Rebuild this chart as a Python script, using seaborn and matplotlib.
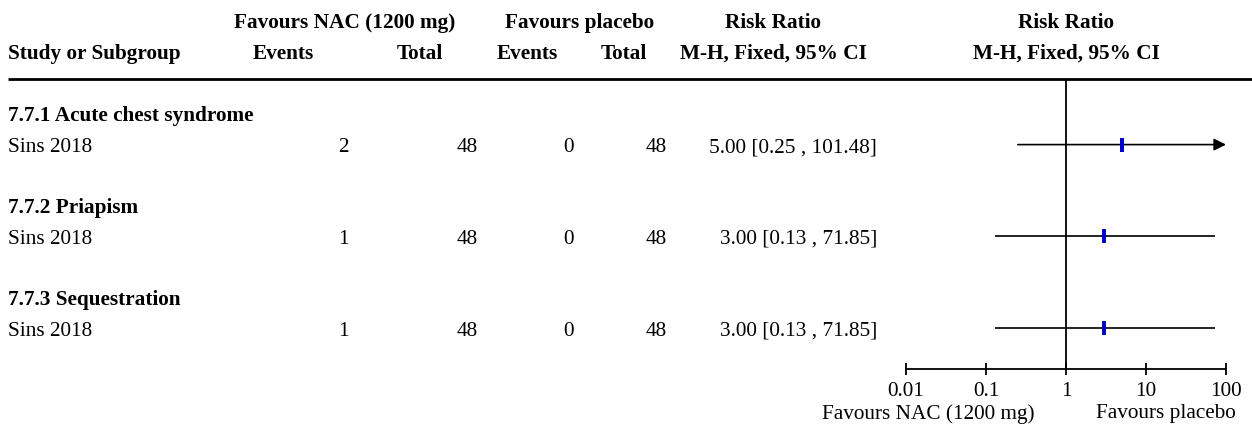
import numpy as np
import pandas as pd
import seaborn as sns
import matplotlib.pyplot as plt

# data
subgroups = ["7.7.1 Acute chest syndrome", "7.7.2 Priapism", "7.7.3 Sequestration"]
studies = ["Sins 2018", "Sins 2018", "Sins 2018"]
nac_events = [2, 1, 1]
nac_total = [48, 48, 48]
plc_events = [0, 0, 0]
plc_total = [48, 48, 48]
rr = [5.00, 3.00, 3.00]
ci_low = [0.25, 0.13, 0.13]
ci_high = [101.48, 71.85, 71.85]
ticks = [0.01, 0.1, 1, 10, 100]
tick_labels = ["0.01", "0.1", "1", "10", "100"]

sns.set_theme(style="white")
plt.rcParams["font.family"] = ["Liberation Serif", "DejaVu Serif"]
plt.rcParams["text.color"] = "black"
plt.rcParams["xtick.color"] = "black"
plt.rcParams["xtick.labelcolor"] = "black"
FS = 15.3

W, H = 1252, 427
fig = plt.figure(figsize=(W / 100, H / 100), dpi=100)

# layout axes in pixel units
tab = fig.add_axes([0, 0, 1, 1])
tab.set_xlim(0, W)
tab.set_ylim(H, 0)
tab.axis("off")


def row_y(i):
    return 115 + 30.6 * i


# headers
hdr = dict(fontsize=FS, fontweight="bold", va="center")
tab.text(8, 54, "Study or Subgroup", ha="left", **hdr)
tab.text(345, 23, "Favours NAC (1200 mg)", ha="center", **hdr)
tab.text(283, 54, "Events", ha="center", **hdr)
tab.text(420, 54, "Total", ha="center", **hdr)
tab.text(580, 23, "Favours placebo", ha="center", **hdr)
tab.text(527, 54, "Events", ha="center", **hdr)
tab.text(624, 54, "Total", ha="center", **hdr)
tab.text(773, 23, "Risk Ratio", ha="center", **hdr)
tab.text(773, 54, "M-H, Fixed, 95% CI", ha="center", **hdr)
tab.text(1066, 23, "Risk Ratio", ha="center", **hdr)
tab.text(1066, 54, "M-H, Fixed, 95% CI", ha="center", **hdr)
tab.plot([8, W], [80, 80], color="black", lw=2, solid_capstyle="butt")

rows = []
for k in range(len(subgroups)):
    yh = row_y(3 * k) + 1
    yd = row_y(3 * k + 1)
    rows.append(yd)
    tab.text(8, yh, subgroups[k], ha="left", **hdr)
    reg = dict(fontsize=FS, va="center")
    tab.text(8, yd + 2, studies[k], ha="left", **reg)
    tab.text(343, yd + 2, str(nac_events[k]), ha="center", **reg)
    tab.text(478, yd + 2, str(nac_total[k]), ha="right", **reg)
    tab.text(569, yd + 2, str(plc_events[k]), ha="center", **reg)
    tab.text(667, yd + 2, str(plc_total[k]), ha="right", **reg)
    tab.text(877, yd + 2, f"{rr[k]:.2f} [{ci_low[k]:.2f} , {ci_high[k]:.2f}]", ha="right", **reg)

df = pd.DataFrame({"rr": rr, "lo": ci_low, "hi": ci_high, "y": rows})

# forest axes
ax = fig.add_axes([906 / W, (H - 370) / H, 320 / W, 290 / H])
ax.set_xscale("log")
ax.set_xlim(0.01, 100)
ax.set_ylim(370, 80)
ax.patch.set_alpha(0)

ax.axvline(1, color="black", lw=1.3)
for _, r in df.iterrows():
    if r["hi"] > 100:
        ax.annotate("", xy=(100, r["y"]), xytext=(r["lo"], r["y"]),
                    arrowprops=dict(arrowstyle="-|>,head_length=0.6,head_width=0.3",
                                    color="black", lw=1.2, shrinkA=0, shrinkB=0))
    else:
        ax.hlines(r["y"], r["lo"], r["hi"], color="black", lw=1.2)

box = [(-1, -3), (1, -3), (1, 3), (-1, 3)]
sns.scatterplot(data=df, x="rr", y="y", marker=box, s=110, color="#0000cc",
                edgecolor="#0000cc", linewidth=0, ax=ax, zorder=5, legend=False)

for s in ["top", "left", "right"]:
    ax.spines[s].set_visible(False)
ax.spines["bottom"].set_color("black")
ax.spines["bottom"].set_linewidth(1.3)
ax.set_xticks(ticks)
ax.set_xticklabels(tick_labels)
ax.minorticks_off()
ax.tick_params(axis="x", direction="inout", length=9, width=1.3, color="black",
               labelcolor="black", labelsize=FS, pad=4, bottom=True)
ax.set_yticks([])
ax.set_xlabel("")
ax.set_ylabel("")

tab.text(1035, 414, "Favours NAC (1200 mg)", ha="right", va="center", fontsize=FS)
tab.text(1166, 414, "Favours placebo", ha="center", va="center", fontsize=FS)

fig.savefig("out.png", dpi=100)
